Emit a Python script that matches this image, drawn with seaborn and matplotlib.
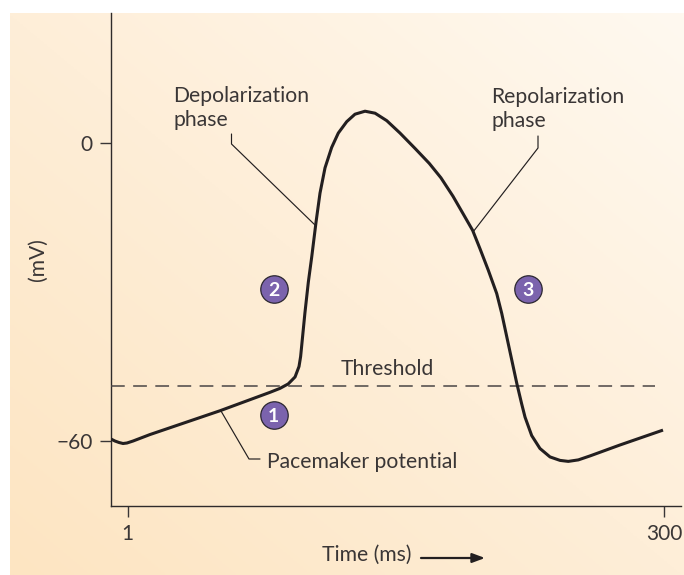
import numpy as np
import pandas as pd
import matplotlib
matplotlib.use("Agg")
import matplotlib.pyplot as plt
from matplotlib.colors import LinearSegmentedColormap
import seaborn as sns

time_ms = [-8.2, -6.0, -3.7, -1.5, 0.7, 4.1, 13.5, 52.6, 80.4, 86.0, 90.6, 94.4, 96.6, 97.5, 98.4, 99.9,
           101.8, 103.7, 106.1, 108.3, 111.1, 114.8, 118.5, 123.2, 127.8, 133.4, 139.0, 145.5, 152.9,
           161.3, 169.2, 175.7, 182.4, 188.0, 193.4, 197.5, 202.1, 206.8, 209.6, 212.4, 215.2, 218.0, 220.7,
           222.6, 226.3, 230.9, 236.5, 242.1, 246.7, 252.3, 258.8, 275.5, 299.5]
membrane_mv = [-59.6, -60.0, -60.3, -60.5, -60.4, -60.0, -58.7, -53.9, -50.2, -49.4, -48.5, -47.1, -45.0, -43.0,
               -39.7, -34.2, -28.0, -22.9, -15.9, -10.1, -5.0, -0.9, 2.0, 4.3, 5.8, 6.4, 6.0, 4.5, 2.0,
               -1.1, -4.1, -7.0, -10.7, -14.2, -17.6, -21.3, -25.6, -30.3, -34.3, -39.0, -43.7, -48.4, -52.5,
               -55.2, -58.9, -61.5, -63.2, -63.9, -64.1, -63.8, -63.0, -60.8, -57.8]
threshold_mv = -49
phase_labels = ["1", "2", "3"]
phase_t = [82.6, 82.6, 224]
phase_v = [-54.8, -29.4, -29.4]
x_ticks = [1, 300]
y_ticks = [0, -60]
y_tick_labels = ["0", "\u221260"]

W, H = 684, 575
X = lambda px: 1 + (px - 127.5) / 1.794
Y = lambda py: (143 - py) / 4.967
INK = "#3a3636"

sns.set_style("ticks")
plt.rcParams["font.family"] = ["Lato", "DejaVu Sans"]
fig = plt.figure(figsize=(W / 100, H / 100), dpi=100, facecolor="white")

bg = fig.add_axes([10 / W, 0, 674 / W, 562 / H], zorder=0)
gx, gy = np.meshgrid(np.linspace(0, 1, 200), np.linspace(0, 1, 200))
cmap = LinearSegmentedColormap.from_list("panel", ["#fde5c2", "#feeed8", "#fff9f0"])
bg.imshow((gx + (1 - gy)) / 2, origin="upper", extent=(0, 1, 0, 1), aspect="auto", cmap=cmap, vmin=0, vmax=1)
bg.axis("off")

ax = fig.add_axes([111 / W, (H - 506) / H, (681 - 111) / W, (506 - 13) / H], zorder=1)
ax.patch.set_alpha(0)
df = pd.DataFrame({"t": time_ms, "v": membrane_mv})
sns.lineplot(data=df, x="t", y="v", ax=ax, color="#231f20", lw=2.2, sort=False, estimator=None,
             solid_joinstyle="round", solid_capstyle="butt", zorder=4)
ax.plot([X(111), X(655)], [threshold_mv, threshold_mv], color="#4a4545", lw=1.1, dashes=(9, 5.5), zorder=3)

for xs, ys in [([231.5, 231.5, 315], [134, 144, 225]),
               ([538, 538, 473], [136, 148, 232]),
               ([221, 249, 260], [411, 459, 459])]:
    ax.plot([X(a) for a in xs], [Y(b) for b in ys], color="#231f20", lw=0.85, zorder=3)

sns.scatterplot(x=phase_t, y=phase_v, ax=ax, s=390, color="#7b63ad", edgecolor="#2b2730", linewidth=0.9,
                zorder=5, legend=False)
for t, v, n in zip(phase_t, phase_v, phase_labels):
    ax.text(t, v - 0.2, n, color="white", fontsize=14, fontweight="bold", ha="center", va="center", zorder=6)

ax.set_xlim(X(111), X(681))
ax.set_ylim(Y(506), Y(13))
ax.set_xticks(x_ticks)
ax.set_yticks(y_ticks, y_tick_labels)
ax.tick_params(length=8, width=1, color=INK, labelcolor=INK, labelsize=15, pad=5)
ax.tick_params(axis="x", pad=5)
ax.set_xlabel("")
ax.set_ylabel("")
sns.despine(ax=ax)
for s in ("left", "bottom"):
    ax.spines[s].set_linewidth(1)
    ax.spines[s].set_color("#2f2b2b")

txt = dict(color=INK, fontsize=15.2, zorder=6)
ax.text(X(173), Y(96), "Depolarization", ha="left", va="center", **txt)
ax.text(X(173), Y(120), "phase", ha="left", va="center", **txt)
ax.text(X(491.5), Y(97), "Repolarization", ha="left", va="center", **txt)
ax.text(X(491.5), Y(121), "phase", ha="left", va="center", **txt)
ax.text(X(341), Y(369), "Threshold", ha="left", va="center", **txt)
ax.text(X(267), Y(462), "Pacemaker potential", ha="left", va="center", **txt)
ax.text(X(322), Y(555), "Time (ms)", ha="left", va="center", clip_on=False, **txt)
ax.text(X(38), Y(260), "(mV)", ha="center", va="center", rotation=90, clip_on=False, **txt)
ax.annotate("", xy=(X(485), Y(558)), xytext=(X(421), Y(558)), annotation_clip=False,
            arrowprops=dict(arrowstyle="-|>,head_length=0.75,head_width=0.28", color="#231f20", lw=1.6,
                            shrinkA=0, shrinkB=0))

fig.savefig("out.png", dpi=100, facecolor="white")
